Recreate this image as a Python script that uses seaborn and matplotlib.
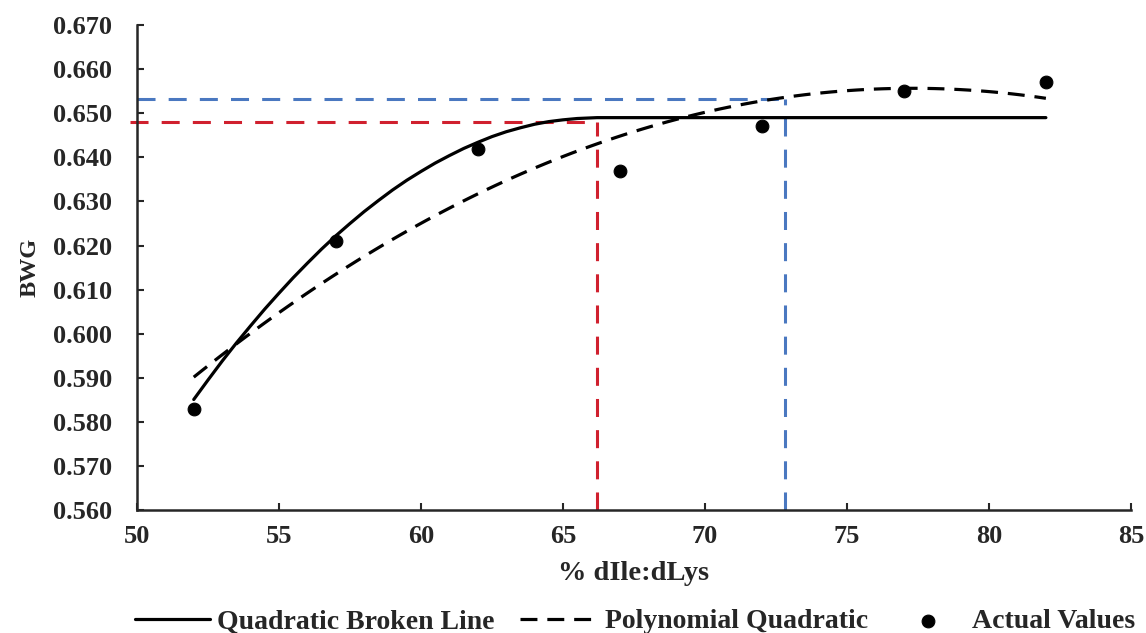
import numpy as np
import pandas as pd
import matplotlib
matplotlib.use('Agg')
import matplotlib.pyplot as plt
import seaborn as sns

# Actual values
ratio = [52, 57, 62, 67, 72, 77, 82]
bwg = [0.583, 0.621, 0.642, 0.637, 0.647, 0.655, 0.657]

# Quadratic broken line curve
qbl_x = [52, 52.5, 53, 53.5, 54, 54.5, 55, 55.5, 56, 56.5, 57, 57.5, 58, 58.5,
         59, 59.5, 60, 60.5, 61, 61.5, 62, 62.5, 63, 63.5, 64, 64.5, 65, 65.5,
         66.2, 82]
qbl_y = [0.5851, 0.5895, 0.5938, 0.5979, 0.6018, 0.6056, 0.6092, 0.6127,
         0.6160, 0.6192, 0.6222, 0.6250, 0.6277, 0.6302, 0.6326, 0.6348,
         0.6368, 0.6387, 0.6404, 0.6420, 0.6434, 0.6447, 0.6458, 0.6467,
         0.6475, 0.6481, 0.6485, 0.6488, 0.649, 0.649]

# Requirement estimates
qbl_break, qbl_req = 66.2, 0.648
pq_break, pq_req = 72.8, 0.6533

x_ticks = [50, 55, 60, 65, 70, 75, 80, 85]
y_ticks = [0.56, 0.57, 0.58, 0.59, 0.60, 0.61, 0.62, 0.63, 0.64, 0.65, 0.66, 0.67]

df = pd.DataFrame({"x": ratio, "y": bwg})
curve = pd.DataFrame({"x": qbl_x, "y": qbl_y})

sns.set_style("ticks")
plt.rcParams['font.family'] = ['Liberation Serif', 'DejaVu Serif']
plt.rcParams['font.weight'] = 'bold'

fig = plt.figure(figsize=(11.46, 6.33), dpi=100)
ax = fig.add_axes([0.1195, 0.194, 0.8675, 0.7665])

red = "#d0202e"
blue = "#4a78c0"
ymin = y_ticks[0]
xmin = x_ticks[0]
dash_ref = (0, (5.9, 4.3))

# reference lines
ax.plot([xmin - 0.25, qbl_break], [qbl_req, qbl_req], color=red, lw=2.2, ls=dash_ref, clip_on=False)
ax.plot([qbl_break, qbl_break], [ymin, qbl_req], color=red, lw=2.2, ls=dash_ref)
ax.plot([xmin, pq_break], [pq_req, pq_req], color=blue, lw=2.2, ls=dash_ref)
ax.plot([pq_break, pq_break], [ymin, pq_req], color=blue, lw=2.2, ls=dash_ref)

sns.lineplot(data=curve, x="x", y="y", ax=ax, color="black", lw=2.3,
             label="Quadratic Broken Line")
sns.regplot(data=df, x="x", y="y", order=2, ci=None, scatter=False, ax=ax,
            truncate=True, label="Polynomial Quadratic",
            line_kws=dict(color="black", lw=2.3, ls=(0, (5.3, 3.1))))
sns.scatterplot(data=df, x="x", y="y", ax=ax, color="black", s=85,
                edgecolor="black", zorder=5, label="Actual Values")

ax.set_xlim(x_ticks[0], x_ticks[-1])
ax.set_ylim(y_ticks[0], y_ticks[-1])
ax.set_xticks(x_ticks)
ax.set_yticks(y_ticks)
ax.set_yticklabels([f"{v:.3f}" for v in y_ticks])
ax.tick_params(direction="in", labelsize=19, width=1.5, length=5)
ax.tick_params(axis="x", pad=11)
ax.tick_params(axis="y", pad=18)
for lab in ax.get_xticklabels() + ax.get_yticklabels():
    lab.set_fontweight("bold")
for s in ["left", "bottom"]:
    ax.spines[s].set_linewidth(1.8)
sns.despine(ax=ax)

ax.set_xlabel("% dIle:dLys", fontsize=20.5, fontweight="bold", labelpad=9)
ax.set_ylabel("BWG", fontsize=17.5, fontweight="bold", labelpad=9)

handles, labels = ax.get_legend_handles_labels()
ax.get_legend().remove()

# one legend per entry, placed like the reference
leg_x = [135 / 1146, 520 / 1146, 890 / 1146]
leg_len = [2.7, 2.55, 2.7]
leg_pad = [0.25, 0.5, 0.25]
for h, l, lx, hl, hp in zip(handles, labels, leg_x, leg_len, leg_pad):
    fig.legend([h], [l], loc="center left", bbox_to_anchor=(lx, 0.018),
               frameon=False, prop={"size": 20, "weight": "bold"},
               borderaxespad=0, borderpad=0, handlelength=hl,
               handletextpad=hp, scatterpoints=1)

fig.savefig("out.png", dpi=100)
